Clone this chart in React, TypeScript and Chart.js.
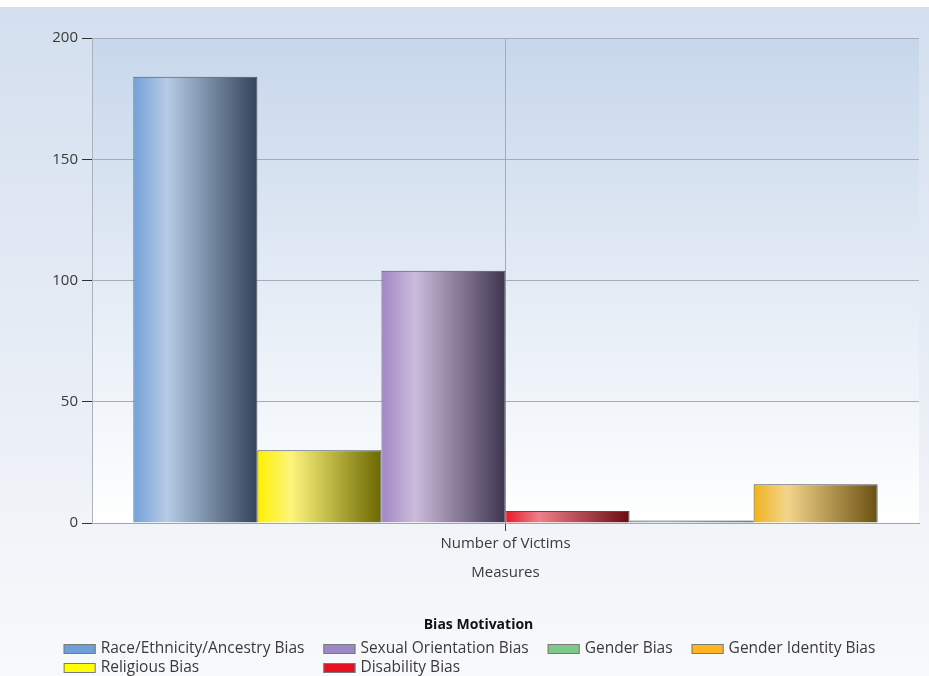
import React, { useEffect, useRef } from "react";
import { Chart, registerables } from "chart.js";

Chart.register(...registerables);

const categories = ["Number of Victims"];
const seriesLabels = [
  "Race/Ethnicity/Ancestry Bias",
  "Religious Bias",
  "Sexual Orientation Bias",
  "Disability Bias",
  "Gender Bias",
  "Gender Identity Bias",
];
const raceValues = [184];
const religiousValues = [30];
const sexualOrientationValues = [104];
const disabilityValues = [5];
const genderValues = [1];
const genderIdentityValues = [16];
const yTickValues = [0, 50, 100, 150, 200];
const xTitle = "Measures";
const legendTitle = "Bias Motivation";
// legend table, row by row (series indices)
const legendRows = [
  [0, 2, 4, 5],
  [1, 3],
];

// [left base, highlight, dark right, legend swatch]
const seriesColors = [
  ["#72a0d7", "#b6cbe5", "#32435a", "#6f9fd8"],
  ["#fff000", "#fdf57c", "#6c6800", "#ffff00"],
  ["#a286c5", "#ccbcdb", "#3d344f", "#9c87c7"],
  ["#e8192a", "#ef7f88", "#6a0b14", "#e8101e"],
  ["#6aa890", "#8fb8b0", "#3a5660", "#7ec98a"],
  ["#f1b21c", "#f4d58b", "#6a5010", "#ffb420"],
];

const FONT = "'Open Sans', 'Liberation Sans', sans-serif";
const TEXT = "#3a3a3a";
const FSIZE = 15;
const LSIZE = 15.5;

const allValues = [
  raceValues,
  religiousValues,
  sexualOrientationValues,
  disabilityValues,
  genderValues,
  genderIdentityValues,
];

const CAT_PCT = 0.9;

function barGradient(ctx: any) {
  const chart = ctx.chart;
  const i = ctx.datasetIndex;
  const c = seriesColors[i];
  const xs = chart.scales && chart.scales.x;
  if (!xs || xs.right === undefined) return c[0];
  const catW = (xs.right - xs.left) / categories.length;
  const center = xs.getPixelForValue(ctx.dataIndex ?? 0);
  const groupW = catW * CAT_PCT;
  const bw = groupW / seriesLabels.length;
  const x0 = center - groupW / 2 + i * bw;
  const g = chart.ctx.createLinearGradient(x0, 0, x0 + bw, 0);
  g.addColorStop(0, c[0]);
  g.addColorStop(0.27, c[1]);
  g.addColorStop(1, c[2]);
  return g;
}

const backgroundPlugin = {
  id: "bgPlugin",
  beforeDraw(chart: any) {
    const { ctx, width, height, chartArea } = chart;
    ctx.save();
    ctx.fillStyle = "#ffffff";
    ctx.fillRect(0, 0, width, height);
    const og = ctx.createLinearGradient(0, 7, 0, height);
    og.addColorStop(0, "#d3dfef");
    og.addColorStop(0.75, "#f0f3f8");
    og.addColorStop(1, "#f8f9fb");
    ctx.fillStyle = og;
    ctx.fillRect(0, 7, width, height - 7);
    if (chartArea) {
      const pg = ctx.createLinearGradient(0, chartArea.top, 0, chartArea.bottom);
      pg.addColorStop(0, "#c7d7eb");
      pg.addColorStop(1, "#ffffff");
      ctx.fillStyle = pg;
      ctx.fillRect(
        chartArea.left,
        chartArea.top,
        chartArea.right - chartArea.left,
        chartArea.bottom - chartArea.top
      );
    }
    ctx.restore();
  },
};

const legendPlugin = {
  id: "gridLegend",
  afterDraw(chart: any) {
    const { ctx, width } = chart;
    ctx.save();
    ctx.fillStyle = "#111111";
    ctx.font = `bold 14px ${FONT}`;
    ctx.textAlign = "center";
    ctx.textBaseline = "middle";
    ctx.fillText(legendTitle, width / 2 + 14, 625);

    ctx.font = `${LSIZE}px ${FONT}`;
    const cols = Math.max(...legendRows.map((r) => r.length));
    const boxW = 32;
    const boxH = 10;
    const textGap = 5;
    const colGap = 19;
    const colWidths: number[] = [];
    for (let c = 0; c < cols; c++) {
      let m = 0;
      for (const row of legendRows) {
        const idx = row[c];
        if (idx !== undefined) {
          m = Math.max(m, ctx.measureText(seriesLabels[idx]).width);
        }
      }
      colWidths.push(boxW + textGap + m);
    }
    const total =
      colWidths.reduce((a, b) => a + b, 0) + colGap * (cols - 1);
    const startX = width / 2 + 5 - total / 2;
    const rowY = [649, 668];
    ctx.textAlign = "left";
    legendRows.forEach((row, r) => {
      let x = startX;
      for (let c = 0; c < cols; c++) {
        const idx = row[c];
        if (idx !== undefined) {
          const y = rowY[r];
          ctx.fillStyle = seriesColors[idx][3];
          ctx.fillRect(x, y - boxH / 2, boxW, boxH);
          ctx.strokeStyle = "#7a7a7a";
          ctx.lineWidth = 1;
          ctx.strokeRect(x + 0.5, y - boxH / 2 + 0.5, boxW - 1, boxH - 1);
          ctx.fillStyle = TEXT;
          ctx.fillText(seriesLabels[idx], x + boxW + textGap, y);
        }
        x += colWidths[c] + colGap;
      }
    });
    ctx.restore();
  },
};

export default function App() {
  const ref = useRef<HTMLCanvasElement | null>(null);

  useEffect(() => {
    document.body.style.margin = "0";
    const canvas = ref.current;
    if (!canvas) return;
    const chart = new Chart(canvas, {
      type: "bar",
      data: {
        labels: categories,
        datasets: seriesLabels.map((label, i) => ({
          label,
          data: allValues[i],
          backgroundColor: barGradient,
          borderColor: "#4b505c",
          borderWidth: 1,
          categoryPercentage: CAT_PCT,
          barPercentage: 1,
        })),
      },
      options: {
        animation: false,
        responsive: false,
        maintainAspectRatio: false,
        layout: { padding: { top: 38, right: 10, left: 0, bottom: 94 } },
        plugins: {
          legend: { display: false },
          tooltip: { enabled: false },
          title: { display: false },
        },
        scales: {
          x: {
            grid: {
              offset: false,
              color: "#a3acb8",
              tickColor: "#404040",
              tickLength: 8,
            },
            border: { color: "#9ea6b0" },
            ticks: { font: { family: FONT, size: FSIZE }, color: TEXT, padding: 4 },
            title: {
              display: true,
              text: xTitle,
              font: { family: FONT, size: FSIZE },
              color: TEXT,
              padding: { top: 7, bottom: 0 },
            },
          },
          y: {
            min: 0,
            max: 200,
            afterFit(scale: any) {
              scale.width = 92;
            },
            afterBuildTicks(scale: any) {
              scale.ticks = yTickValues.map((v) => ({ value: v }));
            },
            grid: {
              color: "#a3acb8",
              tickColor: "#303030",
              tickLength: 10,
            },
            border: { color: "#aab2bc" },
            ticks: {
              font: { family: FONT, size: FSIZE },
              color: TEXT,
              padding: 4,
            },
          },
        },
      },
      plugins: [backgroundPlugin, legendPlugin],
    });
    return () => chart.destroy();
  }, []);

  return (
    <div style={{ width: 929, height: 676 }}>
      <canvas ref={ref} width={929} height={676} style={{ display: "block" }} />
    </div>
  );
}
